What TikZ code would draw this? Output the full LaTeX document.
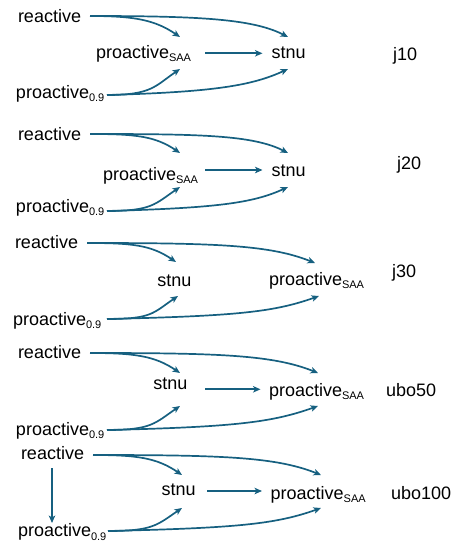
\documentclass[tikz,border=0pt]{standalone}
\usepackage{fontspec}
\setmainfont{Liberation Sans}
\usetikzlibrary{arrows.meta}
\definecolor{arrc}{RGB}{22,96,128}
\newcommand{\mysub}[1]{\raisebox{-3.5pt}{\fontsize{11}{12}\selectfont #1}}
\begin{document}
\begin{tikzpicture}[x=1pt,y=-1pt,
  lbl/.style={inner sep=0pt,outer sep=0pt,anchor=base west,font=\fontsize{18}{20}\selectfont},
  arr/.style={draw=arrc,line width=1.7pt,-{Stealth[length=7.5pt,width=6.5pt,inset=2pt]}}]
\useasboundingbox (0,0) rectangle (475,543);

% ---------- block 1 (j10)
\node[lbl] (r1) at (18,22.5) {reactive};
\node[lbl] (s1) at (96,58.5) {proactive\mysub{SAA}};
\node[lbl] (t1) at (271.5,59) {stnu};
\node[lbl] (p1) at (16,98) {proactive\mysub{0.9}};
\node[lbl] (l1) at (393,60) {j10};
\draw[arr] ([shift={(72,-6.5)}]r1.base west) .. controls +(45,0) and +(-25,-17) .. ([shift={(84,-21.5)}]s1.base west);
\draw[arr] ([shift={(72,-6.5)}]r1.base west) .. controls +(110,0) and +(-35,-18) .. ([shift={(16.5,-22)}]t1.base west);
\draw[arr] ([shift={(91,-3)}]p1.base west) .. controls +(45,0) and +(-25,17) .. ([shift={(84,10.5)}]s1.base west);
\draw[arr] ([shift={(91,-3)}]p1.base west) .. controls +(110,-3) and +(-35,16) .. ([shift={(16.5,10)}]t1.base west);
\draw[arr] ([shift={(109,-5.2)}]s1.base west) -- ([shift={(-9,-5.7)}]t1.base west);

% ---------- block 2 (j20)
\node[lbl] (r2) at (18,140) {reactive};
\node[lbl] (s2) at (103,180) {proactive\mysub{SAA}};
\node[lbl] (t2) at (271.5,176.7) {stnu};
\node[lbl] (p2) at (16,212) {proactive\mysub{0.9}};
\node[lbl] (l2) at (397,169) {j20};
\draw[arr] ([shift={(72,-6)}]r2.base west) .. controls +(45,0) and +(-25,-17) .. ([shift={(77,-27)}]s2.base west);
\draw[arr] ([shift={(72,-6)}]r2.base west) .. controls +(110,0) and +(-35,-18) .. ([shift={(16.5,-23.7)}]t2.base west);
\draw[arr] ([shift={(91,-1)}]p2.base west) .. controls +(45,0) and +(-25,17) .. ([shift={(77,7)}]s2.base west);
\draw[arr] ([shift={(91,-1)}]p2.base west) .. controls +(110,-3) and +(-35,16) .. ([shift={(16.5,10.3)}]t2.base west);
\draw[arr] ([shift={(102,-10)}]s2.base west) -- ([shift={(-9,-6.7)}]t2.base west);

% ---------- block 3 (j30)
\node[lbl] (r3) at (15,248.3) {reactive};
\node[lbl] (t3) at (157.3,286.7) {stnu};
\node[lbl] (s3) at (269,285) {proactive\mysub{SAA}};
\node[lbl] (p3) at (13,325) {proactive\mysub{0.9}};
\node[lbl] (l3) at (392,277) {j30};
\draw[arr] ([shift={(72,-5.3)}]r3.base west) .. controls +(45,0) and +(-25,-17) .. ([shift={(18.7,-24.7)}]t3.base west);
\draw[arr] ([shift={(72,-5.3)}]r3.base west) .. controls +(130,0) and +(-45,-18) .. ([shift={(46,-22)}]s3.base west);
\draw[arr] ([shift={(94,-6)}]p3.base west) .. controls +(45,0) and +(-25,17) .. ([shift={(20.7,9.3)}]t3.base west);
\draw[arr] ([shift={(94,-6)}]p3.base west) .. controls +(130,-3) and +(-45,16) .. ([shift={(50,11)}]s3.base west);

% ---------- block 4 (ubo50)
\node[lbl] (r4) at (18,358.3) {reactive};
\node[lbl] (t4) at (153.3,389.3) {stnu};
\node[lbl] (s4) at (269,396) {proactive\mysub{SAA}};
\node[lbl] (p4) at (16,435) {proactive\mysub{0.9}};
\node[lbl] (l4) at (386,396) {ubo50};
\draw[arr] ([shift={(72,-5.3)}]r4.base west) .. controls +(45,0) and +(-25,-17) .. ([shift={(26.7,-16.3)}]t4.base west);
\draw[arr] ([shift={(72,-5.3)}]r4.base west) .. controls +(130,0) and +(-45,-18) .. ([shift={(49,-23)}]s4.base west);
\draw[arr] ([shift={(91,-5)}]p4.base west) .. controls +(45,0) and +(-25,17) .. ([shift={(26.7,16.7)}]t4.base west);
\draw[arr] ([shift={(91,-5)}]p4.base west) .. controls +(130,-3) and +(-45,16) .. ([shift={(49,10)}]s4.base west);
\draw[arr] ([shift={(51.7,0)}]t4.base west) -- ([shift={(-8.5,-6.7)}]s4.base west);

% ---------- block 5 (ubo100)
\node[lbl] (r5) at (21,459.3) {reactive};
\node[lbl] (t5) at (161.7,495) {stnu};
\node[lbl] (s5) at (270.7,499) {proactive\mysub{SAA}};
\node[lbl] (p5) at (18,536.7) {proactive\mysub{0.9}};
\node[lbl] (l5) at (391,499.5) {ubo100};
\draw[arr] ([shift={(31,8.7)}]r5.base west) -- ([shift={(34,-13.7)}]p5.base west);
\draw[arr] ([shift={(72,-4.3)}]r5.base west) .. controls +(45,0) and +(-25,-17) .. ([shift={(20.3,-20)}]t5.base west);
\draw[arr] ([shift={(72,-4.3)}]r5.base west) .. controls +(130,0) and +(-45,-18) .. ([shift={(50.3,-24)}]s5.base west);
\draw[arr] ([shift={(90,-5.7)}]p5.base west) .. controls +(45,0) and +(-25,17) .. ([shift={(20.3,13)}]t5.base west);
\draw[arr] ([shift={(90,-5.7)}]p5.base west) .. controls +(130,-3) and +(-45,16) .. ([shift={(50.3,9)}]s5.base west);
\draw[arr] ([shift={(45.3,-4)}]t5.base west) -- ([shift={(-8.7,-8)}]s5.base west);
\end{tikzpicture}
\end{document}
